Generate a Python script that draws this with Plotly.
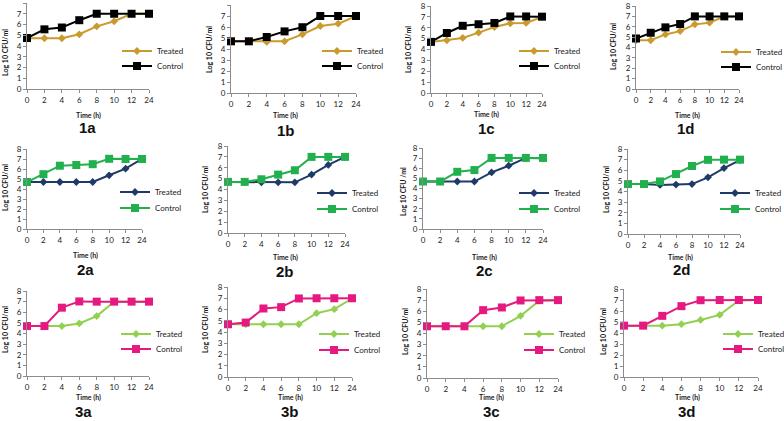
import plotly.graph_objects as go

W, H = 784, 421

time_labels = ["0", "2", "4", "6", "8", "10", "12", "24"]
y_ticks = [0, 1, 2, 3, 4, 5, 6, 7, 8]
series_names = ["Treated", "Control"]
panel_labels = ["1a", "1b", "1c", "1d", "2a", "2b", "2c", "2d", "3a", "3b", "3c", "3d"]

treated_1a = [4.72, 4.72, 4.72, 5.09, 5.83, 6.30, 7.00, 7.00]
control_1a = [4.74, 5.55, 5.72, 6.40, 7.00, 7.00, 7.00, 7.00]
treated_1b = [4.70, 4.70, 4.64, 4.70, 5.33, 6.09, 6.30, 6.98]
control_1b = [4.70, 4.70, 5.09, 5.60, 5.98, 7.00, 7.00, 7.00]
treated_1c = [4.70, 4.85, 5.06, 5.55, 6.07, 6.41, 6.44, 7.00]
control_1c = [4.70, 5.52, 6.18, 6.32, 6.44, 7.04, 7.04, 7.02]
treated_1d = [4.70, 4.70, 5.26, 5.58, 6.23, 6.39, 7.00, 7.00]
control_1d = [4.87, 5.42, 5.94, 6.26, 7.00, 7.00, 7.00, 7.00]

treated_2a = [4.70, 4.70, 4.70, 4.70, 4.70, 5.37, 6.03, 7.02]
control_2a = [4.70, 5.48, 6.33, 6.40, 6.48, 7.02, 7.00, 7.00]
treated_2b = [4.69, 4.69, 4.66, 4.66, 4.66, 5.37, 6.26, 7.00]
control_2b = [4.70, 4.70, 4.94, 5.37, 5.77, 7.00, 7.00, 7.00]
treated_2c = [4.69, 4.69, 4.69, 4.69, 5.59, 6.25, 7.02, 7.00]
control_2c = [4.69, 4.69, 5.65, 5.82, 7.02, 7.02, 7.02, 7.02]
treated_2d = [4.70, 4.70, 4.62, 4.65, 4.70, 5.33, 6.20, 6.96]
control_2d = [4.70, 4.70, 4.95, 5.64, 6.40, 6.98, 7.00, 7.00]

treated_3a = [4.70, 4.70, 4.70, 4.95, 5.64, 7.00, 7.00, 7.00]
control_3a = [4.70, 4.70, 6.43, 7.02, 7.00, 7.00, 7.00, 7.00]
treated_3b = [4.69, 4.69, 4.69, 4.69, 4.69, 5.67, 6.03, 6.96]
control_3b = [4.69, 4.84, 6.09, 6.21, 6.98, 7.00, 7.00, 7.00]
treated_3c = [4.65, 4.65, 4.65, 4.65, 4.65, 5.59, 6.95, 7.00]
control_3c = [4.65, 4.65, 4.65, 6.10, 6.34, 6.97, 7.00, 7.00]
treated_3d = [4.67, 4.67, 4.67, 4.80, 5.19, 5.65, 6.96, 7.00]
control_3d = [4.67, 4.67, 5.56, 6.44, 6.98, 7.00, 7.00, 7.00]

treated_all = [treated_1a, treated_1b, treated_1c, treated_1d,
               treated_2a, treated_2b, treated_2c, treated_2d,
               treated_3a, treated_3b, treated_3c, treated_3d]
control_all = [control_1a, control_1b, control_1c, control_1d,
               control_2a, control_2b, control_2c, control_2d,
               control_3a, control_3b, control_3c, control_3d]

# colours per row: (treated, control)
row_colors = [("#C99A2E", "#000000"), ("#1F3A68", "#22B04E"), ("#92D050", "#E5197F")]

# layout per panel, in pixels: plot left, plot right, top (y=8), bottom (y=0)
plot_px = [
    (27, 149, 3, 89), (231, 356, 5, 93), (431, 542, 6, 93), (636, 739, 6, 89),
    (27, 142, 149, 229), (228, 345, 146, 233), (423, 543, 148, 229), (628, 740, 149, 234),
    (27, 149, 291, 376), (228, 352, 287, 377), (427, 558, 289, 378), (624, 758, 289, 377),
]
# legend: text left x, treated y, control y
legend_px = [
    (157, 51, 66), (357, 51, 66), (554, 51, 66), (756, 52, 67),
    (155, 192, 208), (352, 193, 209), (554, 193, 209), (755, 193, 209),
    (156, 334, 349), (354, 334, 350), (559, 334, 350), (758, 334, 349),
]
# panel label center (x, y)
label_px = [
    (87, 127), (286, 131), (486, 128), (686, 128),
    (85, 269), (285, 271), (484, 270), (682, 269),
    (83, 411), (290, 411), (491, 411), (687, 411),
]
# "Time (h)" center
xtitle_px = [
    (88, 115), (285, 115), (486, 114), (687, 115),
    (85, 255), (285, 257), (484, 257), (680, 257),
    (88, 397), (290, 397), (491, 397), (687, 397),
]
# y title center
ytitle_px = [
    (5, 53), (209, 50), (408, 50), (613, 47),
    (5, 188), (205, 190), (403, 192), (606, 190),
    (5, 330), (205, 330), (405, 332), (603, 332),
]
y_title_texts = ["Log 10 CFU/ml"] * 12
y_title_texts[6] = "Log 10 CFU /ml"

AX_COLOR = "#8C8C8C"
FONT = "Lato"
LEG_TEXT_OFFSET = 40

fig = go.Figure()
annotations = []
layout = dict(
    width=W, height=H,
    margin=dict(l=0, r=0, t=0, b=0, autoexpand=False),
    paper_bgcolor="white", plot_bgcolor="white",
    showlegend=True,
    font=dict(family=FONT, size=8, color="#1a1a1a"),
)

def px_x(v):
    return v / W

def px_y(v):
    return 1 - v / H

for i in range(12):
    row = i // 4
    tcol, ccol = row_colors[row]
    xa = "x" if i == 0 else f"x{i+1}"
    ya = "y" if i == 0 else f"y{i+1}"
    xkey = "xaxis" if i == 0 else f"xaxis{i+1}"
    ykey = "yaxis" if i == 0 else f"yaxis{i+1}"
    leg_t = "legend" if i == 0 else f"legend{2*i+1}"
    leg_c = f"legend{2*i+2}"

    x0, x1, yt, yb = plot_px[i]
    layout[xkey] = dict(
        domain=[px_x(x0), px_x(x1)], anchor=ya, type="category",
        categoryorder="array", categoryarray=time_labels, range=[0, 7],
        showline=True, linecolor=AX_COLOR, linewidth=1, ticks="outside",
        ticklen=3, tickcolor=AX_COLOR, showgrid=False, zeroline=False,
        tickfont=dict(size=8, family=FONT, color="#1a1a1a"), fixedrange=True,
    )
    layout[ykey] = dict(
        domain=[px_y(yb), px_y(yt)], anchor=xa, range=[0, 8], tickvals=y_ticks,
        showline=True, linecolor=AX_COLOR, linewidth=1, ticks="outside",
        ticklen=3, tickcolor=AX_COLOR, showgrid=False, zeroline=False,
        tickfont=dict(size=8, family=FONT, color="#1a1a1a"), fixedrange=True,
    )

    fig.add_trace(go.Scatter(
        x=time_labels, y=treated_all[i], name=series_names[0], mode="lines+markers",
        line=dict(color=tcol, width=2), marker=dict(symbol="diamond", size=6, color=tcol),
        xaxis=xa, yaxis=ya, legend=leg_t, cliponaxis=False,
    ))
    fig.add_trace(go.Scatter(
        x=time_labels, y=control_all[i], name=series_names[1], mode="lines+markers",
        line=dict(color=ccol, width=2), marker=dict(symbol="square", size=8, color=ccol),
        xaxis=xa, yaxis=ya, legend=leg_c, cliponaxis=False,
    ))

    tx, ty_t, ty_c = legend_px[i]
    for key, yy in ((leg_t, ty_t), (leg_c, ty_c)):
        layout[key] = dict(
            x=px_x(tx - LEG_TEXT_OFFSET), y=px_y(yy),
            xanchor="left", yanchor="middle",
            bgcolor="rgba(0,0,0,0)", borderwidth=0,
            font=dict(size=8, family=FONT, color="#1a1a1a"),
            tracegroupgap=0,
        )

    lx, ly = label_px[i]
    annotations.append(dict(
        text=f"<b>{panel_labels[i]}</b>", x=px_x(lx), y=px_y(ly), xref="paper", yref="paper",
        xanchor="center", yanchor="middle", showarrow=False, borderpad=0,
        font=dict(family="Liberation Sans", size=15, color="#111111"),
    ))
    qx, qy = xtitle_px[i]
    annotations.append(dict(
        text="<b>Time (h)</b>", x=px_x(qx), y=px_y(qy), xref="paper", yref="paper",
        xanchor="center", yanchor="middle", showarrow=False, borderpad=0,
        font=dict(family=FONT, size=7, color="#1a1a1a"),
    ))
    vx, vy = ytitle_px[i]
    annotations.append(dict(
        text=f"<b>{y_title_texts[i]}</b>", x=px_x(vx), y=px_y(vy), xref="paper", yref="paper",
        xanchor="center", yanchor="middle", showarrow=False, textangle=-90, borderpad=0,
        font=dict(family=FONT, size=7, color="#1a1a1a"),
    ))

layout["annotations"] = annotations
fig.update_layout(**layout)
fig.write_html(
    "out.html",
    config={"displayModeBar": False, "staticPlot": True},
    post_script="document.body.style.margin='0';document.body.style.padding='0';",
)
